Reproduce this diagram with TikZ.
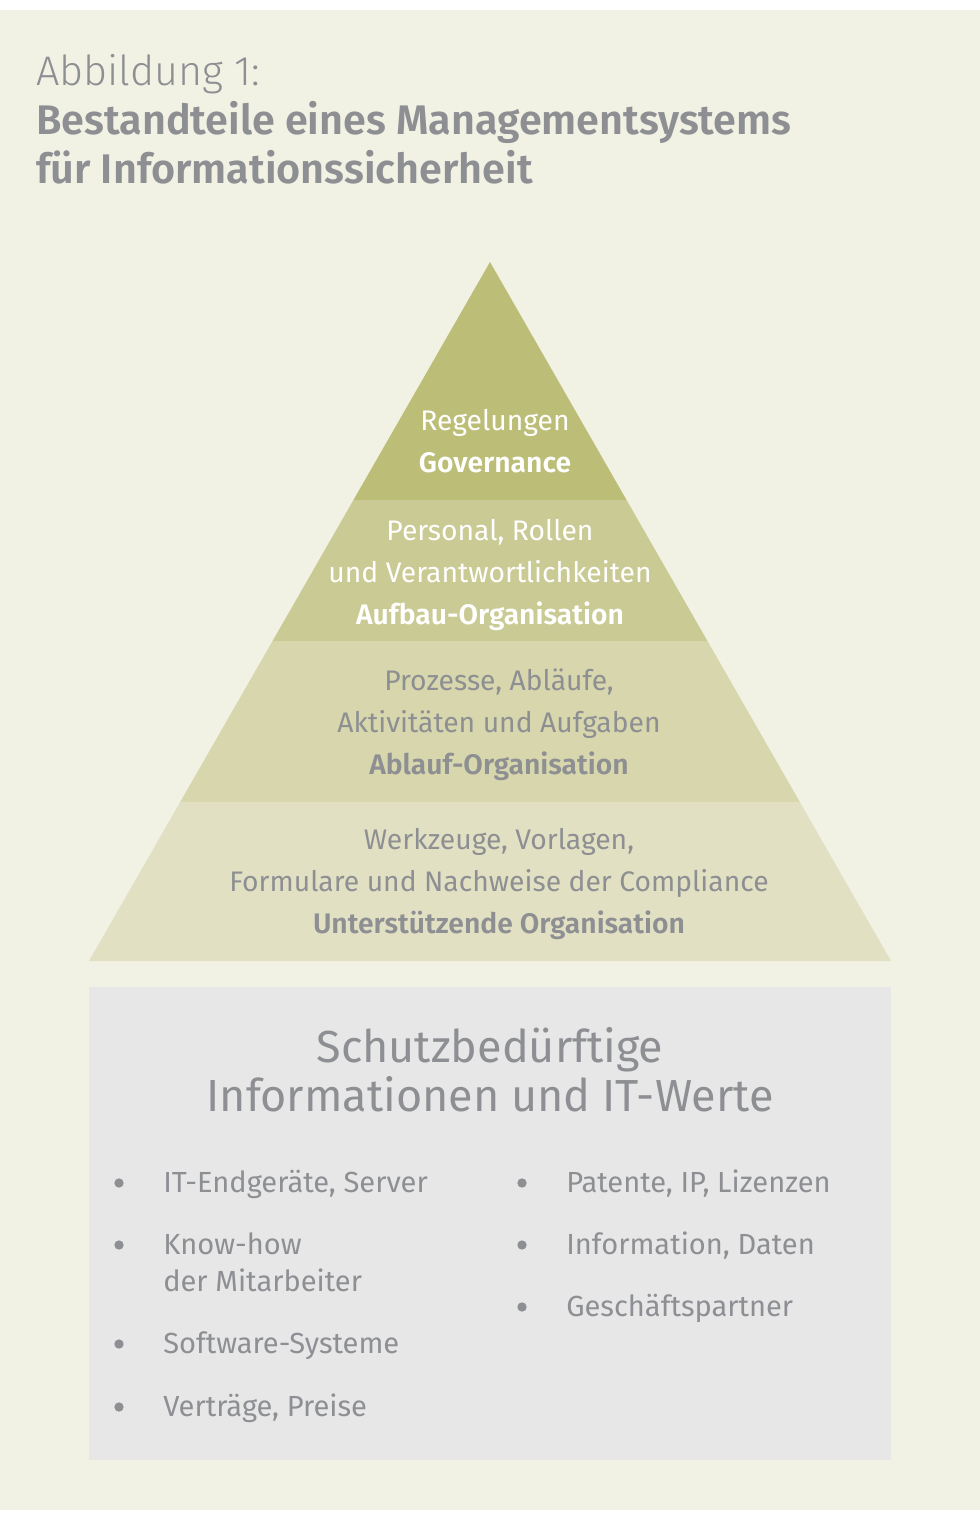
\documentclass[tikz,border=0pt]{standalone}
\usepackage{fontspec}
\IfFontExistsTF{Fira Sans SemiBold}{\setmainfont{Fira Sans}[BoldFont={Fira Sans SemiBold}]}{\setmainfont{Fira Sans}}
\IfFontExistsTF{Fira Sans Light}{\newfontfamily\lightfont{Fira Sans Light}}{\newfontfamily\lightfont{Fira Sans}}
\usetikzlibrary{positioning,calc}

\definecolor{paper}{HTML}{F1F1E4}
\definecolor{layerA}{HTML}{BCBE78}
\definecolor{layerB}{HTML}{CACA95}
\definecolor{layerC}{HTML}{D7D6AC}
\definecolor{layerD}{HTML}{E2E0C3}
\definecolor{assetbg}{HTML}{E7E7E8}
\definecolor{txtgray}{HTML}{8D8F93}

\begin{document}
\begin{tikzpicture}[x=0.75pt,y=-0.75pt,lay/.style={align=center,anchor=base,
font=\fontsize{21.2}{31.5}\selectfont},item/.style={anchor=base west,
align=left,inner xsep=0pt,text=txtgray,font=\fontsize{21.8}{27.75}\selectfont},
dot/.style={circle,fill=txtgray,inner sep=0pt,minimum size=7pt}]
\useasboundingbox (0,0) rectangle (980,1515);
\fill[white] (0,0) rectangle (980,1515);
\fill[paper] (0,10) rectangle (980,1510);
% title
\node[anchor=base west,align=left,inner xsep=0pt,text=txtgray,
  font=\fontsize{31}{36.75}\selectfont] (title) at (36,184)
  {{\lightfont Abbildung 1:}\\\textbf{Bestandteile eines Managementsystems}\\
   \textbf{für Informationssicherheit}};
% pyramid
\coordinate (apex) at (490,262);
\coordinate (bl) at (89,961);
\coordinate (br) at (891,961);
\foreach \t/\n in {0.3405/a,0.5422/b,0.7725/c}{
  \coordinate (l\n) at ($(apex)!\t!(bl)$);
  \coordinate (r\n) at ($(apex)!\t!(br)$);
}
\fill[layerA] (apex) -- (ra) -- (la) -- cycle;
\fill[layerB] (la) -- (ra) -- (rb) -- (lb) -- cycle;
\fill[layerC] (lb) -- (rb) -- (rc) -- (lc) -- cycle;
\fill[layerD] (lc) -- (rc) -- (br) -- (bl) -- cycle;
\node[lay,text=white] (gov) at (495,472) {Regelungen\\\textbf{Governance}};
\node[lay,text=white] (aufbau) at (490,624)
  {Personal, Rollen\\und Verantwortlichkeiten\\\textbf{Aufbau-Organisation}};
\node[lay,text=txtgray] (ablauf) at (499,774)
  {Prozesse, Abläufe,\\Aktivitäten und Aufgaben\\\textbf{Ablauf-Organisation}};
\node[lay,text=txtgray] (support) at (499,933)
  {Werkzeuge, Vorlagen,\\Formulare und Nachweise der Compliance\\
   \textbf{Unterstützende Organisation}};
% assets
\fill[assetbg] (89,987) rectangle (891,1460);
\node[anchor=base,align=center,text=txtgray,
  font=\fontsize{33.7}{36.75}\selectfont] (assets) at (490,1111)
  {Schutzbedürftige\\Informationen und IT-Werte};
\foreach \n/\xx/\yy/\ly/\txt in {i1/163/1192/1192/{IT-Endgeräte, Server},
  i2/163/1254/1291/{Know-how\\der Mitarbeiter},
  i3/163/1353/1353/{Software-Systeme},i4/163/1416/1416/{Verträge, Preise},
  i5/566/1192/1192/{Patente, IP, Lizenzen},
  i6/566/1254/1254/{Information, Daten},i7/566/1316/1316/{Geschäftspartner}}{
  \node[item] (\n) at (\xx,\ly) {\txt};
  \node[dot] (\n dot) at ($(\xx,\yy)+(-44,-9)$) {};
}
\end{tikzpicture}
\end{document}
